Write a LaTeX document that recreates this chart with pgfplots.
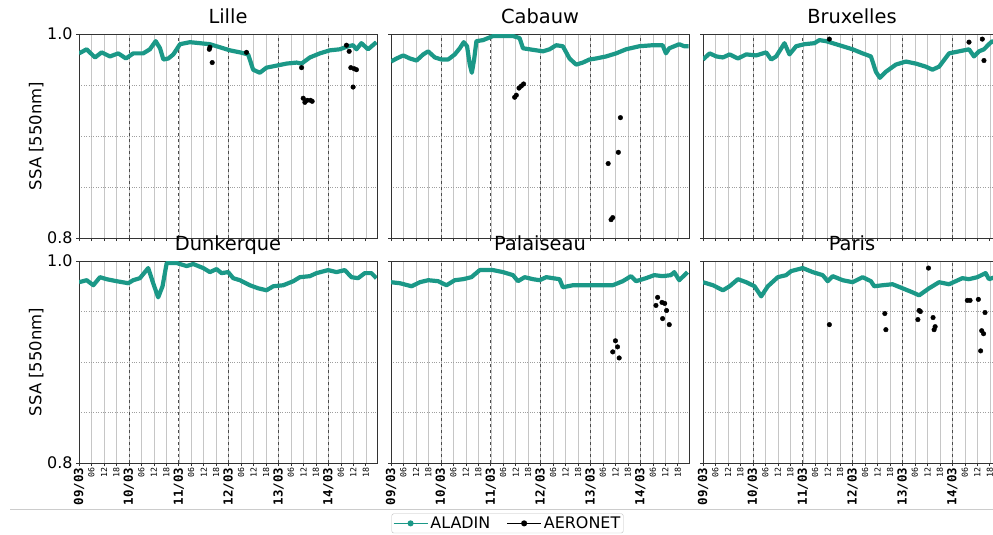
\documentclass[border=0pt]{standalone}
\usepackage{pgfplots}
\pgfplotsset{compat=1.18}
\usepackage{fontspec}
\setmainfont{DejaVu Sans}
\newfontfamily\monofont{DejaVu Sans Mono}
\definecolor{aladin}{RGB}{27,152,135}
\newcommand{\Dl}[1]{{\fontsize{12.5}{12.5}\selectfont\monofont\bfseries #1}}
\newcommand{\Hl}[1]{{\fontsize{8.3}{8.3}\selectfont\monofont #1}}

\pgfplotsset{
 panel/.style={
  width=298bp, scale only axis,
  xmin=0, xmax=143.4, ymin=0.8, ymax=1.0,
  xtick={0,6,...,138},
  ytick={0.8,1.0},
  yticklabels={},
  xticklabels={},
  minor ytick={0.85,0.9,0.95},
  xmajorgrids=true, yminorgrids=true,
  major grid style={gray!45, line width=0.5bp},
  minor grid style={gray!75, dotted, line width=0.6bp},
  extra x ticks={24,48,72,96,120},
  extra x tick labels={},
  extra x tick style={grid=major, major grid style={black!70, dashed, line width=0.6bp}},
  tick align=outside, tick pos=left,
  major tick length=3bp, minor tick length=0pt,
  axis line style={black!80, line width=0.6bp},
  tick style={black!80, line width=0.6bp},
  title style={at={(0.5,1)}, anchor=base, yshift=5bp, font=\fontsize{19.5}{20}\selectfont, inner sep=0pt},
  /pgf/number format/assume math mode=true,
  yticklabel style={font=\fontsize{16}{16}\selectfont},
  ylabel style={at={(axis description cs:-0.144,0.5)}, anchor=center, font=\fontsize{16.5}{17}\selectfont},
  xticklabel style={rotate=90, anchor=east, inner sep=1.5bp},
 },
 leftcol/.style={yticklabels={0.8,1.0}, ylabel={SSA [550nm]}},
 bottomrow/.style={xticklabels={\Dl{09/03},\Hl{06},\Hl{12},\Hl{18},\Dl{10/03},\Hl{06},\Hl{12},\Hl{18},\Dl{11/03},\Hl{06},\Hl{12},\Hl{18},\Dl{12/03},\Hl{06},\Hl{12},\Hl{18},\Dl{13/03},\Hl{06},\Hl{12},\Hl{18},\Dl{14/03},\Hl{06},\Hl{12},\Hl{18}}},
 aladinline/.style={aladin, line width=4.2bp, line join=round, no marks, forget plot},
 aeronetpts/.style={only marks, mark=*, mark size=2.3bp, black, forget plot},
}

\begin{document}
\begin{tikzpicture}
\draw[gray!40, line width=0.8bp] (10bp,-509bp) -- (993bp,-509bp);

% ---------------- Lille
\begin{axis}[panel, leftcol, height=204bp, at={(79bp,-34bp)}, anchor=north west, title={Lille}]
\addplot[aladinline] coordinates {(0,0.981) (3.7,0.985) (7.7,0.977) (10.9,0.982) (14.9,0.978) (18.9,0.981) (22.6,0.976) (26.1,0.981) (30.9,0.981) (34.1,0.985) (36.9,0.993) (39.0,0.986) (40.6,0.975) (43.0,0.976) (45.4,0.980) (48.6,0.990) (53.4,0.992) (58.2,0.991) (63.0,0.990) (67.8,0.987) (72.6,0.984) (77.4,0.982) (81.4,0.980) (83.8,0.965) (87.0,0.962) (90.2,0.967) (95.1,0.969) (99.9,0.971) (104.7,0.972) (107.1,0.971) (111.1,0.977) (115.9,0.981) (120.7,0.984) (125.5,0.985) (129.5,0.988) (131.9,0.989) (133.5,0.985) (135.9,0.991) (139.1,0.985) (143.1,0.992)};
\addplot[aeronetpts] coordinates {(62.7,0.985) (63.0,0.987) (64.1,0.972) (80.6,0.982) (107.1,0.967) (107.9,0.937) (108.7,0.933) (109.8,0.935) (111.4,0.935) (112.2,0.934) (128.7,0.989) (130.0,0.983) (130.8,0.967) (132.4,0.966) (133.5,0.965) (131.9,0.948)};
\end{axis}

% ---------------- Cabauw
\begin{axis}[panel, height=204bp, at={(391bp,-34bp)}, anchor=north west, title={Cabauw}]
\addplot[aladinline] coordinates {(0,0.973) (2.7,0.976) (5.9,0.979) (9.1,0.976) (12.3,0.974) (15.5,0.980) (17.9,0.983) (21.1,0.977) (24.3,0.975) (27.5,0.975) (30.7,0.980) (33.1,0.986) (35.0,0.992) (36.6,0.988) (37.9,0.970) (38.9,0.962) (40.0,0.975) (41.1,0.993) (44.3,0.994) (49.1,0.998) (53.9,0.998) (58.7,0.998) (61.9,0.996) (63.5,0.986) (66.7,0.985) (69.9,0.984) (73.1,0.983) (76.3,0.985) (79.5,0.989) (82.7,0.988) (85.9,0.976) (89.1,0.970) (92.3,0.972) (95.5,0.975) (98.7,0.976) (103.5,0.978) (108.3,0.981) (113.1,0.985) (119.5,0.988) (125.9,0.989) (130.7,0.989) (132.3,0.981) (133.9,0.986) (136.3,0.988) (138.7,0.990) (141.1,0.988) (143.2,0.988)};
\addplot[aeronetpts] coordinates {(59.5,0.938) (60.3,0.940) (61.6,0.947) (62.7,0.949) (63.8,0.951) (110.4,0.918) (109.4,0.884) (104.5,0.873) (105.9,0.818) (106.7,0.820)};
\end{axis}

% ---------------- Bruxelles
\begin{axis}[panel, height=204bp, at={(703bp,-34bp)}, anchor=north west, title={Bruxelles}]
\addplot[aladinline] coordinates {(0,0.975) (3.2,0.981) (6.4,0.978) (9.6,0.977) (12.8,0.980) (16.8,0.976) (20.8,0.980) (25.6,0.979) (30.4,0.982) (32.8,0.975) (35.2,0.978) (39.2,0.991) (41.6,0.980) (44.8,0.988) (48.8,0.990) (53.6,0.991) (56.0,0.994) (59.2,0.993) (62.4,0.991) (67.2,0.988) (72.0,0.985) (76.8,0.981) (80.8,0.978) (83.2,0.963) (85.1,0.957) (88.0,0.963) (92.8,0.970) (97.6,0.973) (102.4,0.971) (107.2,0.968) (110.4,0.965) (113.6,0.968) (118.4,0.981) (123.2,0.983) (128.0,0.985) (130.4,0.978) (132.8,0.983) (135.2,0.985) (137.6,0.990) (139.2,0.993) (142.0,0.990) (143.2,0.992)};
\addplot[aeronetpts] coordinates {(60.8,0.995) (128.0,0.992) (134.4,0.995) (135.2,0.974)};
\end{axis}

% ---------------- Dunkerque
\begin{axis}[panel, leftcol, bottomrow, height=202bp, at={(79bp,-261bp)}, anchor=north west, title={Dunkerque}]
\addplot[aladinline] coordinates {(0,0.979) (3.7,0.981) (6.9,0.976) (10.1,0.984) (13.3,0.982) (18.1,0.980) (23.7,0.978) (26.1,0.981) (29.3,0.983) (33.3,0.993) (35.7,0.978) (38.1,0.964) (40.2,0.975) (42.2,0.998) (47.0,0.998) (51.8,0.995) (55.0,0.997) (59.8,0.993) (63.0,0.989) (66.2,0.992) (68.6,0.988) (71.8,0.989) (74.2,0.983) (77.4,0.981) (82.2,0.976) (86.2,0.973) (90.2,0.971) (93.5,0.975) (98.3,0.976) (103.1,0.980) (106.3,0.984) (111.1,0.985) (114.3,0.988) (119.9,0.991) (123.9,0.989) (127.9,0.991) (131.1,0.984) (134.3,0.983) (137.5,0.988) (140.7,0.988) (143.1,0.983)};
\end{axis}

% ---------------- Palaiseau
\begin{axis}[panel, bottomrow, height=202bp, at={(391bp,-261bp)}, anchor=north west, title={Palaiseau},
  legend columns=2,
  legend style={at={(axis description cs:0.391,-0.25)}, anchor=north, draw=gray!50, rounded corners=2bp,
    font=\fontsize{16}{16}\selectfont, inner sep=1bp, /tikz/every even column/.append style={column sep=14bp}},
  legend image code/.code={\draw[mark repeat=2, mark phase=2, #1] plot coordinates {(0bp,0bp) (17bp,0bp) (34bp,0bp)};}]
\addlegendimage{aladin, line width=1.6bp, mark=*, mark size=2.2bp}
\addlegendentry{ALADIN}
\addlegendimage{black, line width=1.6bp, mark=*, mark size=2.2bp}
\addlegendentry{AERONET}
\addplot[aladinline] coordinates {(0,0.979) (4.3,0.978) (9.9,0.975) (13.9,0.979) (17.9,0.981) (22.7,0.980) (26.7,0.976) (30.7,0.981) (34.7,0.982) (38.7,0.984) (42.7,0.991) (49.1,0.991) (53.9,0.989) (58.7,0.986) (61.1,0.980) (64.3,0.984) (68.3,0.982) (71.5,0.981) (74.7,0.984) (81.1,0.982) (82.7,0.974) (87.5,0.976) (93.9,0.976) (100.3,0.976) (106.7,0.976) (111.5,0.980) (115.5,0.985) (117.9,0.980) (122.7,0.983) (126.7,0.986) (130.7,0.985) (134.7,0.986) (136.3,0.989) (138.7,0.981) (142.7,0.989)};
\addplot[aeronetpts] coordinates {(108.0,0.921) (109.0,0.915) (106.7,0.910) (109.8,0.904) (128.3,0.964) (127.5,0.956) (130.4,0.959) (131.7,0.958) (132.6,0.951) (130.7,0.943) (133.9,0.937)};
\end{axis}

% ---------------- Paris
\begin{axis}[panel, bottomrow, height=202bp, at={(703bp,-261bp)}, anchor=north west, title={Paris}]
\addplot[aladinline] coordinates {(0,0.979) (4.8,0.976) (9.6,0.971) (12.8,0.975) (16.8,0.982) (20.8,0.979) (24.8,0.975) (28.0,0.965) (31.2,0.975) (36.0,0.984) (40.0,0.986) (42.4,0.990) (48.0,0.993) (52.8,0.989) (57.6,0.986) (60.0,0.980) (62.4,0.985) (67.2,0.981) (72.0,0.979) (76.8,0.984) (80.8,0.980) (82.4,0.975) (86.4,0.976) (91.2,0.977) (96.0,0.973) (100.8,0.969) (104.0,0.966) (108.8,0.973) (113.6,0.979) (118.4,0.977) (121.6,0.980) (124.8,0.983) (128.0,0.982) (132.0,0.984) (136.0,0.988) (137.6,0.982) (140.5,0.984) (143.2,0.983)};
\addplot[aeronetpts] coordinates {(60.8,0.937) (87.5,0.948) (88.0,0.932) (104.0,0.951) (104.6,0.950) (103.4,0.942) (108.5,0.993) (110.7,0.944) (111.7,0.935) (111.2,0.932) (127.2,0.961) (128.5,0.961) (132.5,0.962) (135.7,0.949) (134.1,0.931) (135.0,0.928) (133.6,0.911)};
\end{axis}

\pgfresetboundingbox
\path[use as bounding box] (0bp,0bp) rectangle (993bp,-535bp);
\end{tikzpicture}
\end{document}
